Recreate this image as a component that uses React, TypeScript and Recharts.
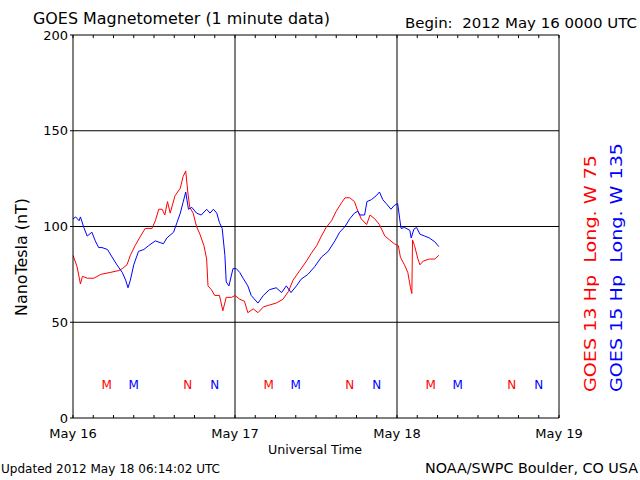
import { ComposedChart, Line, Scatter, XAxis, YAxis, ReferenceLine } from "recharts";

// hours since 2012 May 16 00:00 UT
const redHours = [
  0, 0.6, 1.1, 1.4, 2.1, 3.1, 4.1, 5.5, 6.8, 7.3, 8.0, 8.5, 9.2, 10.0, 10.7, 11.7, 12.2, 12.7, 13.2, 13.6,
  14.0, 14.4, 15.1, 15.9, 16.3, 16.7, 17.0, 17.3, 17.8, 18.3, 18.8, 19.4, 19.8, 20.0, 20.5, 21.0, 21.7, 22.2,
  22.7, 23.5, 24.0, 24.7, 25.4, 25.9, 26.7, 27.4, 28.2, 29.1, 30.1, 31.1, 31.9, 32.6, 33.6, 34.6, 35.3, 36.1,
  36.8, 37.5, 38.3, 39.0, 39.8, 40.3, 41.0, 41.7, 42.2, 42.7, 43.5, 44.0, 44.7, 45.4, 46.2, 46.9, 47.6, 48.2,
  48.5, 49.1, 49.6, 50.0, 50.2, 50.3, 50.6, 51.1, 51.4, 51.9, 52.8, 53.6, 54.2,
];
const redValues = [
  85, 79, 70, 74, 73, 73, 75, 76, 77, 78, 80, 85, 90, 95, 99, 99, 103, 109, 109, 106,
  113, 107, 116, 120, 126, 129, 118, 110, 107, 100, 96, 90, 83, 69, 67, 64, 64, 56,
  63, 63, 64, 62, 61, 55, 57, 55, 58, 59, 60, 62, 66, 72, 77, 82, 86, 90,
  95, 99.5, 103, 108, 112.5, 115, 115, 113, 108, 104, 101, 106, 104, 101, 95, 93, 91, 90,
  84, 80, 76, 68, 65, 93, 90, 83, 80, 82, 83, 83, 85,
];

const blueHours = [
  0, 0.4, 0.9, 1.1, 1.6, 2.1, 2.8, 3.3, 3.8, 4.3, 5.1, 5.8, 6.5, 7.3, 7.8, 8.15, 8.5, 9.0, 9.7, 10.5,
  11.2, 12.2, 12.9, 13.4, 13.9, 14.9, 15.4, 15.9, 16.3, 16.7, 17.1, 17.6, 18.3, 19.0, 19.8, 20.3, 20.8, 21.3,
  21.7, 22.1, 22.5, 22.7, 23.1, 23.7, 24.2, 24.7, 25.2, 25.9, 26.4, 27.4, 28.2, 29.1, 30.1, 30.9, 31.6, 32.3,
  33.1, 33.8, 34.8, 35.8, 36.8, 37.8, 38.8, 39.5, 40.3, 41.0, 41.7, 42.2, 42.5, 43.2, 43.55, 44.2, 44.9, 45.4,
  45.9, 46.4, 47.1, 47.6, 48.1, 48.4, 48.6, 49.1, 49.9, 50.1, 50.5, 50.9, 51.4, 52.1, 52.8, 53.6, 54.2,
];
const blueValues = [
  104, 105, 103, 105, 99.5, 95, 97, 92.5, 89, 89, 88, 84, 80, 76, 72, 68, 72, 80, 87, 88,
  90, 92.5, 91.6, 91, 94, 97, 102, 107, 112.5, 118, 109, 110, 107, 106, 109, 107, 109, 107,
  102, 99, 85, 71, 69, 78, 78, 76, 73, 69, 64, 60, 64, 67, 68, 65.5, 69, 65.5,
  69, 72.5, 75, 79, 84, 87, 92.5, 97, 100, 104, 107, 108, 106, 106, 113, 114, 116, 118,
  114, 112, 109, 111, 112, 104, 99, 99.5, 98, 94, 98.6, 99.5, 96, 95, 94, 92, 89.5,
];

// local midnight (M) / noon (N) markers for each satellite
const markerHours = [5, 9, 17, 21, 29, 33, 41, 45, 53, 57, 65, 69];
const markerLetters = ["M", "M", "N", "N", "M", "M", "N", "N", "M", "M", "N", "N"];
const markerSats = ["13", "15", "13", "15", "13", "15", "13", "15", "13", "15", "13", "15"];
const markerLevel = 17;

const dayLabels = ["May 16", "May 17", "May 18", "May 19"];
const hourTicks = [0, 3, 6, 9, 12, 15, 18, 21, 24, 27, 30, 33, 36, 39, 42, 45, 48, 51, 54, 57, 60, 63, 66, 69, 72];
const yTicks = [0, 50, 100, 150, 200];
const gridHours = [24, 48];
const gridValues = [50, 100, 150];

const RED = "#ff0000";
const BLUE = "#0000ff";
const FONT = "DejaVu Sans";
const Y_MAX = 200;
const TOP_TICK = 1.6; // ~3px in nT

const redData = redHours.map((t, i) => ({ t, v: redValues[i] }));
const blueData = blueHours.map((t, i) => ({ t, v: blueValues[i] }));
const markerData = markerHours.map((t, i) => ({
  t,
  v: markerLevel,
  letter: markerLetters[i],
  color: markerSats[i] === "13" ? RED : BLUE,
}));

const renderLetter = (p: any) => (
  <text
    x={p.cx}
    y={p.cy}
    textAnchor="middle"
    dominantBaseline="central"
    fontSize={12}
    fontFamily={FONT}
    fill={p.payload.color}
  >
    {p.payload.letter}
  </text>
);

export default function App() {
  return (
    <div style={{ position: "absolute", left: 0, top: 0, width: 640, height: 480, background: "#fff" }}>
      <ComposedChart width={640} height={480} margin={{ top: 35, right: 81, bottom: 42, left: 43 }}>
        <XAxis
          dataKey="t"
          type="number"
          domain={[0, 72]}
          allowDataOverflow
          ticks={hourTicks}
          interval={0}
          tickSize={-3}
          tickMargin={14}
          height={20}
          stroke="#000"
          tick={{ fontSize: 13, fill: "#000", fontFamily: FONT }}
          tickFormatter={(v: number) => (v % 24 === 0 ? dayLabels[v / 24] : "")}
        />
        <YAxis
          type="number"
          domain={[0, Y_MAX]}
          ticks={yTicks}
          interval={0}
          tickSize={3}
          tickMargin={2}
          width={30}
          stroke="#000"
          tick={{ fontSize: 13, fill: "#000", fontFamily: FONT }}
        />
        <ReferenceLine y={Y_MAX} stroke="#000" />
        <ReferenceLine x={72} stroke="#000" />
        {gridHours.map((h) => (
          <ReferenceLine key={"h" + h} x={h} stroke="#000" />
        ))}
        {gridValues.map((v) => (
          <ReferenceLine key={"v" + v} y={v} stroke="#000" />
        ))}
        {hourTicks.map((h) => (
          <ReferenceLine
            key={"tt" + h}
            segment={[
              { x: h, y: Y_MAX },
              { x: h, y: Y_MAX - TOP_TICK },
            ]}
            stroke="#000"
          />
        ))}
        <Line
          data={redData}
          dataKey="v"
          type="linear"
          stroke={RED}
          strokeWidth={1}
          dot={false}
          isAnimationActive={false}
        />
        <Line
          data={blueData}
          dataKey="v"
          type="linear"
          stroke={BLUE}
          strokeWidth={1}
          dot={false}
          isAnimationActive={false}
        />
        <Scatter data={markerData} dataKey="v" shape={renderLetter} isAnimationActive={false} />
      </ComposedChart>
      <svg
        width={640}
        height={480}
        style={{ position: "absolute", left: 0, top: 0, pointerEvents: "none" }}
        fontFamily={FONT}
      >
        <text x={33} y={24} fontSize={16} textLength={297} lengthAdjust="spacingAndGlyphs">
          GOES Magnetometer (1 minute data)
        </text>
        <text x={405} y={28} fontSize={14} textLength={232} lengthAdjust="spacingAndGlyphs" style={{ whiteSpace: "pre" }}>
          {"Begin:  2012 May 16 0000 UTC"}
        </text>
        <text
          transform="translate(27, 257) rotate(-90)"
          textAnchor="middle"
          fontSize={16}
          textLength={118}
          lengthAdjust="spacingAndGlyphs"
        >
          NanoTesla (nT)
        </text>
        <text x={315} y={454} textAnchor="middle" fontSize={13} textLength={94} lengthAdjust="spacingAndGlyphs">
          Universal Time
        </text>
        <text x={1} y={473} fontSize={13} textLength={219} lengthAdjust="spacingAndGlyphs">
          Updated 2012 May 18 06:14:02 UTC
        </text>
        <text x={638} y={473} textAnchor="end" fontSize={14} textLength={213} lengthAdjust="spacingAndGlyphs">
          NOAA/SWPC Boulder, CO USA
        </text>
        <text
          transform="translate(596, 392) rotate(-90)"
          fontSize={16}
          fill={RED}
          textLength={237}
          lengthAdjust="spacingAndGlyphs"
          style={{ whiteSpace: "pre" }}
        >
          {"GOES 13 Hp  Long. W 75"}
        </text>
        <text
          transform="translate(622, 392) rotate(-90)"
          fontSize={16}
          fill={BLUE}
          textLength={249}
          lengthAdjust="spacingAndGlyphs"
          style={{ whiteSpace: "pre" }}
        >
          {"GOES 15 Hp  Long. W 135"}
        </text>
      </svg>
    </div>
  );
}
